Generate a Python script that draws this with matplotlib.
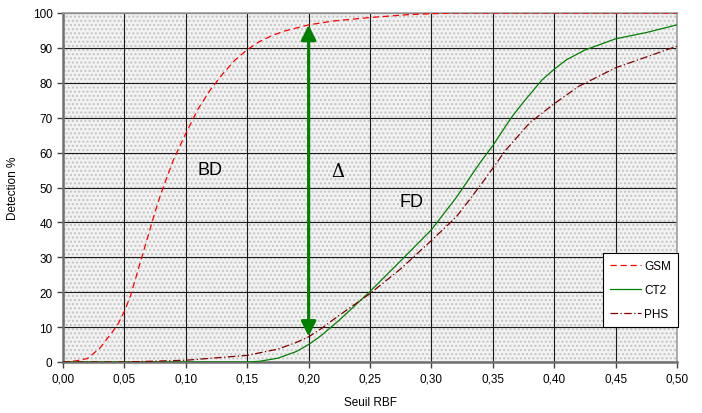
import numpy as np
import matplotlib
matplotlib.use('Agg')
import matplotlib.pyplot as plt
from matplotlib.ticker import FuncFormatter

plt.rcParams['font.family'] = ['Liberation Sans', 'DejaVu Sans']

# GSM (BD curve)
x_gsm = [0.00, 0.01, 0.02, 0.03, 0.04, 0.045, 0.05, 0.055, 0.06, 0.065, 0.07,
         0.075, 0.08, 0.09, 0.10, 0.11, 0.12, 0.13, 0.14, 0.15, 0.16, 0.17,
         0.18, 0.20, 0.22, 0.25, 0.28, 0.30, 0.32, 0.40, 0.50]
y_gsm = [0.0, 0.3, 1.0, 4.0, 8.5, 11.0, 14.5, 19.0, 25.0, 31.0, 37.0,
         43.0, 48.5, 58.0, 65.5, 72.5, 78.0, 82.5, 86.5, 89.5, 91.8, 93.5,
         94.8, 96.6, 97.7, 98.7, 99.5, 99.8, 100.0, 100.0, 100.0]

# CT2 (FD curve)
x_ct2 = [0.00, 0.15, 0.16, 0.175, 0.19, 0.20, 0.21, 0.225, 0.25, 0.275, 0.30,
         0.32, 0.34, 0.35, 0.365, 0.375, 0.39, 0.40, 0.41, 0.425, 0.45, 0.475, 0.50]
y_ct2 = [0.0, 0.0, 0.2, 1.1, 3.0, 5.0, 7.5, 12.0, 20.2, 29.0, 37.9,
         47.0, 57.3, 62.0, 70.0, 74.5, 80.8, 83.9, 86.6, 89.4, 92.6, 94.4, 96.6]

# PHS
x_phs = [0.00, 0.05, 0.10, 0.15, 0.175, 0.19, 0.20, 0.21, 0.225, 0.25, 0.275, 0.30,
         0.32, 0.33, 0.34, 0.35, 0.36, 0.38, 0.40, 0.42, 0.45, 0.475, 0.50]
y_phs = [0.0, 0.0, 0.5, 1.9, 3.7, 5.6, 7.2, 9.5, 13.4, 19.6, 26.7, 34.8,
         41.5, 46.0, 50.7, 55.5, 60.5, 68.5, 74.0, 79.0, 84.3, 87.4, 90.5]

fig = plt.figure(figsize=(7.02, 4.14), dpi=100)
ax = fig.add_axes([63/702, 51/414, 614/702, 349/414])
ax.set_facecolor('white')
ax.add_patch(plt.Rectangle((0, 0), 1, 1, transform=ax.transAxes, facecolor='#f2f2f2',
                           edgecolor='#c4c4c4', hatch='....', lw=0, zorder=0))

ax.plot(x_gsm, y_gsm, color='#ff0000', ls=(0, (5, 3)), lw=0.9, label='GSM', zorder=3)
ax.plot(x_ct2, y_ct2, color='#008000', ls='-', lw=0.9, label='CT2', zorder=3)
ax.plot(x_phs, y_phs, color='#800000', ls=(0, (6, 2, 1, 2)), lw=0.9, label='PHS', zorder=3)

# double arrow for delta
ax.annotate('', xy=(0.20, 96.6), xytext=(0.20, 7.3),
            arrowprops=dict(arrowstyle='<|-|>,head_length=0.9,head_width=0.45',
                            color='#008000', lw=2.2, shrinkA=0, shrinkB=0), zorder=4)

ax.text(0.120, 55.3, 'BD', fontsize=13, ha='center', va='center')
ax.text(0.2236, 54.7, 'Δ', fontsize=13, ha='center', va='center', family=['DejaVu Serif'])
ax.text(0.2837, 46, 'FD', fontsize=13, ha='center', va='center')

ax.set_xlim(0, 0.5)
ax.set_ylim(0, 100)
ax.set_xticks(np.arange(0, 0.51, 0.05))
ax.set_yticks(np.arange(0, 101, 10))
ax.xaxis.set_major_formatter(FuncFormatter(lambda v, p: ('%.2f' % v).replace('.', ',')))
ax.grid(True, color='#1a1a1a', lw=0.8, zorder=1)
ax.set_axisbelow(True)
ax.tick_params(direction='out', length=4, width=1, labelsize=8.5, color='#444444')

for s in ['top', 'right']:
    ax.spines[s].set_color('#a0a0a0')
    ax.spines[s].set_linewidth(1.2)
for s in ['left', 'bottom']:
    ax.spines[s].set_color('#707070')
    ax.spines[s].set_linewidth(1.8)

ax.set_xlabel('Seuil RBF', fontsize=8.5, labelpad=8)
ax.set_ylabel('Detection %', fontsize=8.5, labelpad=10)

leg = ax.legend(loc='lower right', bbox_to_anchor=(684/702, 80/414),
                bbox_transform=fig.transFigure, fontsize=8.5, fancybox=False,
                edgecolor='black', framealpha=1, handlelength=2.6, borderpad=0.6,
                labelspacing=1.0, handletextpad=0.3)
leg.get_frame().set_linewidth(0.8)
leg.set_zorder(5)

fig.savefig('out.png', dpi=100)
